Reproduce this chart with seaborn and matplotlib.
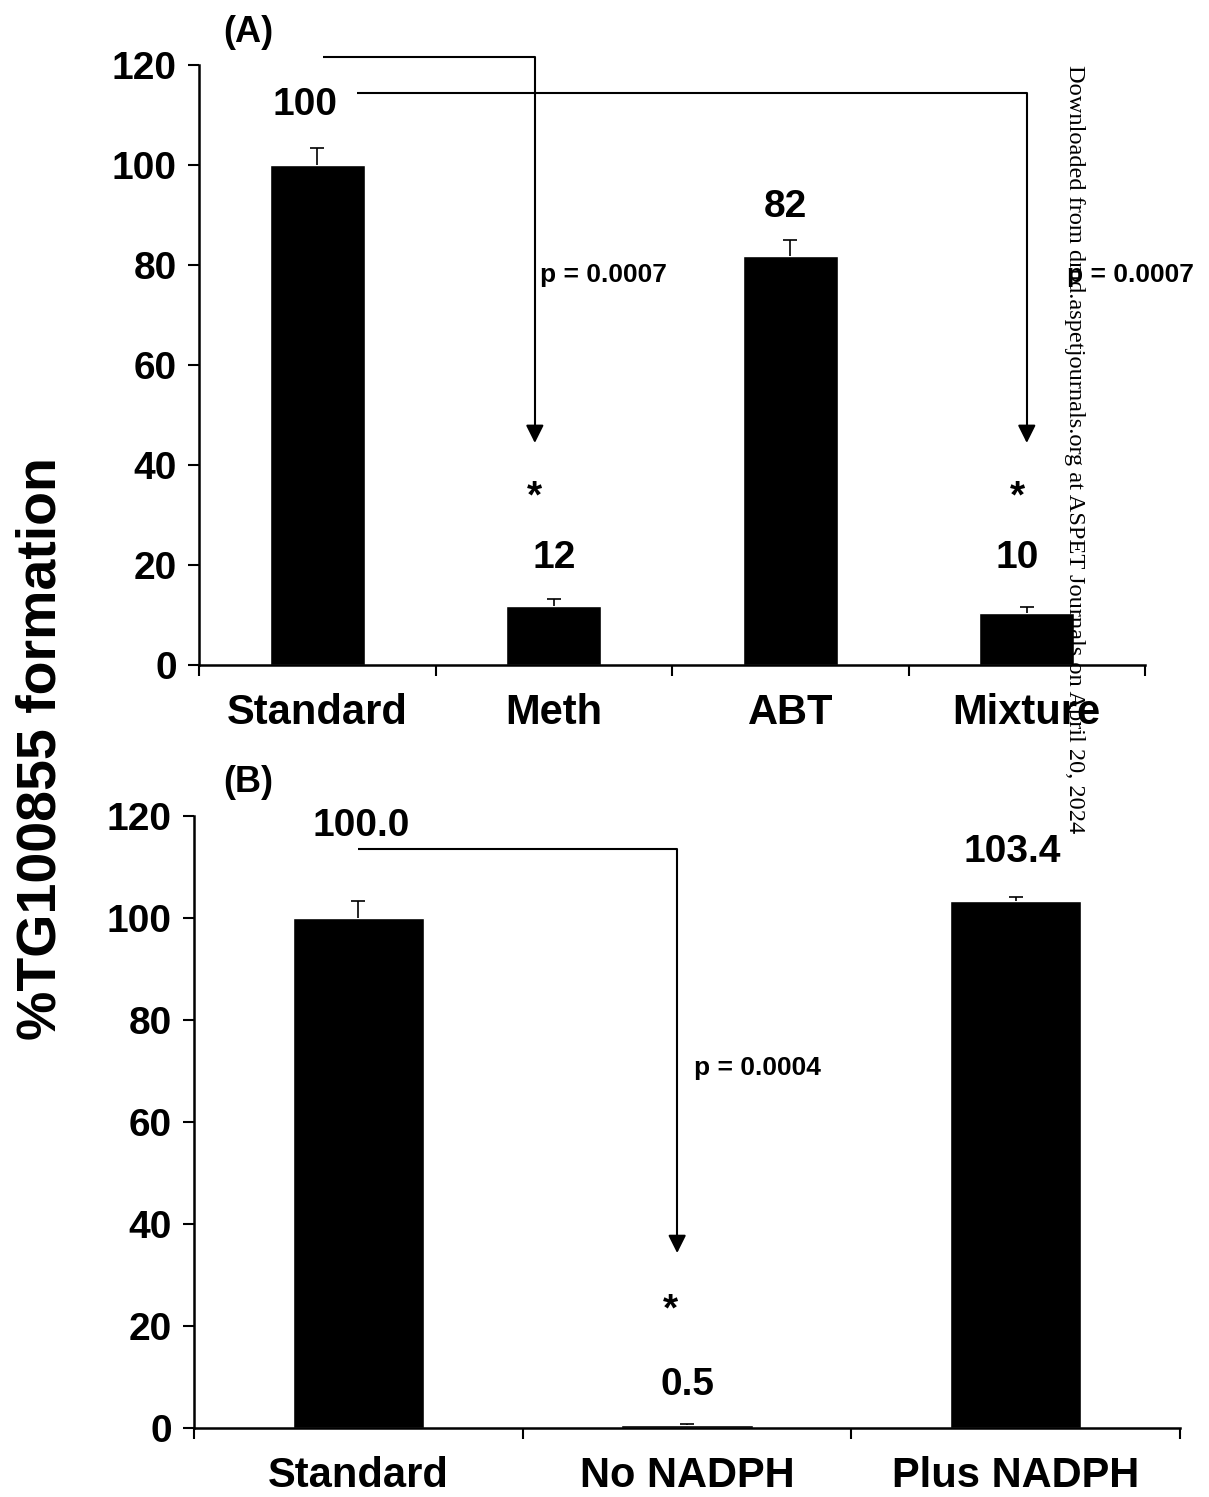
import numpy as np
import pandas as pd
import matplotlib
matplotlib.use('Agg')
import matplotlib.pyplot as plt
import seaborn as sns

# panel A
cats_a = ['Standard', 'Meth', 'ABT', 'Mixture']
vals_a = [100, 11.7, 81.7, 10.4]
err_a = [3.4, 1.4, 3.3, 1.2]
lab_a = ['100', '12', '82', '10']
# panel B
cats_b = ['Standard', 'No NADPH', 'Plus NADPH']
vals_b = [100.0, 0.5, 103.4]
err_b = [3.3, 0.2, 0.8]
lab_b = ['100.0', '0.5', '103.4']
yticks = [0, 20, 40, 60, 80, 100, 120]

sns.set_theme(style='ticks')
plt.rcParams['font.family'] = ['Liberation Sans', 'DejaVu Sans']
plt.rcParams['font.weight'] = 'bold'
plt.rcParams['text.color'] = 'black'
plt.rcParams['xtick.color'] = 'black'
plt.rcParams['ytick.color'] = 'black'
plt.rcParams['xtick.labelcolor'] = 'black'
plt.rcParams['ytick.labelcolor'] = 'black'

fig = plt.figure(figsize=(12.09, 14.97), dpi=100)
axA = fig.add_axes([0.1646, 0.5558, 0.7825, 0.4008])
axB = fig.add_axes([0.1605, 0.0461, 0.8155, 0.4088])


def panel(ax, cats, vals, errs):
    df = pd.DataFrame({'cat': cats, 'val': vals})
    sns.barplot(data=df, x='cat', y='val', color='black', width=0.4,
                saturation=1, ax=ax)
    eb = ax.errorbar(range(len(cats)), vals, yerr=[np.zeros(len(errs)), errs],
                     fmt='none', ecolor='black', elinewidth=1.2, capsize=5, capthick=1.2)
    eb[1][0].remove()  # only the upper cap, like the original
    n = len(cats)
    ax.set_xlim(-0.5, n - 0.5)
    ax.set_ylim(0, 120)
    ax.set_yticks(yticks)
    ax.set_xticks(np.arange(n + 1) - 0.5)
    ax.set_xticklabels([''] * (n + 1))
    ax.set_xticks(range(n), minor=True)
    ax.set_xticklabels(cats, minor=True, fontsize=30, fontweight='bold')
    ax.tick_params(axis='x', which='minor', length=0, pad=20)
    ax.tick_params(axis='x', which='major', length=8, width=1.5, direction='out')
    ax.tick_params(axis='y', length=8, width=1.5, labelsize=28, pad=8)
    for t in ax.get_yticklabels():
        t.set_fontweight('bold')
    for s in ['top', 'right']:
        ax.spines[s].set_visible(False)
    for s in ['left', 'bottom']:
        ax.spines[s].set_linewidth(1.8)
        ax.spines[s].set_color('black')
    ax.set_xlabel('')
    ax.set_ylabel('')
    ax.set_facecolor('white')


def bracket(ax, x0, x1, ytop, ytip):
    ax.plot([x0, x1, x1], [ytop, ytop, ytip + 3], color='black', lw=1.5,
            clip_on=False, solid_capstyle='butt')
    ax.annotate('', xy=(x1, ytip), xytext=(x1, ytip + 3.5),
                arrowprops=dict(arrowstyle='-|>,head_length=0.9,head_width=0.45',
                                color='black', lw=1.5, shrinkA=0, shrinkB=0),
                annotation_clip=False)


panel(axA, cats_a, vals_a, err_a)
panel(axB, cats_b, vals_b, err_b)

# panel A annotations
bracket(axA, 0.025, 0.92, 121.6, 44.4)
bracket(axA, 0.17, 3.0, 114.4, 44.4)
kw = dict(ha='center', va='center', fontsize=28, fontweight='bold', clip_on=False)
axA.text(-0.05, 112, lab_a[0], **kw)
axA.text(1.0, 21.4, lab_a[1], **kw)
axA.text(1.98, 91.6, lab_a[2], **kw)
axA.text(2.96, 21.4, lab_a[3], **kw)
axA.text(0.92, 33.5, '*', **kw)
axA.text(2.96, 33.5, '*', **kw)
axA.text(0.94, 78, 'p = 0.0007', ha='left', va='center', fontsize=19, fontweight='bold')
axA.text(3.17, 78, 'p = 0.0007', ha='left', va='center', fontsize=19,
         fontweight='bold', clip_on=False)

# panel B annotations
bracket(axB, 0.0, 0.97, 113.5, 34.3)
axB.text(0.01, 118, lab_b[0], **kw)
axB.text(1.0, 8.4, lab_b[1], **kw)
axB.text(1.99, 113, lab_b[2], **kw)
axB.text(0.95, 23, '*', **kw)
axB.text(1.02, 70.6, 'p = 0.0004', ha='left', va='center', fontsize=19, fontweight='bold')

fig.text(248 / 1209, 1 - 32 / 1497, '(A)', ha='center', va='center', fontsize=26, fontweight='bold')
fig.text(248 / 1209, 1 - 782 / 1497, '(B)', ha='center', va='center', fontsize=26, fontweight='bold')
fig.text(42 / 1209, 1 - 748 / 1497, '%TG100855 formation', rotation=90, ha='center',
         va='center', fontsize=40, fontweight='bold')

fig.text(1075 / 1209, 1 - 65 / 1497,
         'Downloaded from dmd.aspetjournals.org at ASPET Journals on April 20, 2024',
         rotation=-90, ha='center', va='top', fontsize=17.6, fontweight='normal',
         family=['Liberation Serif', 'DejaVu Serif'])

fig.savefig('out.png', dpi=100, facecolor='white')
